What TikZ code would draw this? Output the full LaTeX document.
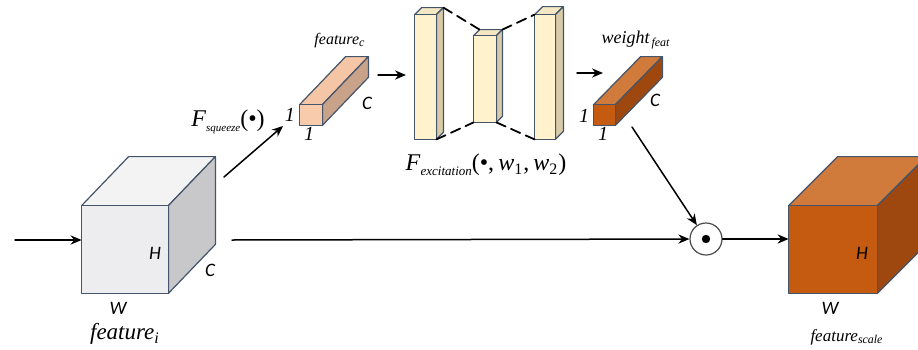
\documentclass[tikz,border=0pt]{standalone}
\usepackage{fontspec}
\setmainfont{Liberation Serif}
\newfontfamily\dimfont{Carlito}
\usepackage{tikz}
\usetikzlibrary{arrows.meta}
\usepackage{xcolor}
\definecolor{edgeblue}{HTML}{44546A}
\definecolor{greyfront}{HTML}{EDEDEF}
\definecolor{greytop}{HTML}{F3F3F3}
\definecolor{greyside}{HTML}{C8C8CA}
\definecolor{peachfront}{HTML}{F8CBAD}
\definecolor{peachtop}{HTML}{F5C6A6}
\definecolor{peachside}{HTML}{C9A28A}
\definecolor{creamfront}{HTML}{FFF2CC}
\definecolor{creamtop}{HTML}{F4E8C4}
\definecolor{creamside}{HTML}{D8CCA8}
\definecolor{rustfront}{HTML}{C55A11}
\definecolor{rusttop}{HTML}{D07A3C}
\definecolor{rustside}{HTML}{9E4810}
% #1 name, #2 x, #3 y, #4 width, #5 height, #6 dx, #7 dy, #8 colour set
\newcommand{\drawbox}[8]{%
  \node[inner sep=0pt,minimum width=#4*0.5pt,minimum height=#5*0.5pt] (#1) at (#2+#4/2,#3+#5/2) {};
  \coordinate (#1-bnw) at ([shift={(#6*0.5pt,#7*0.5pt)}]#1.north west);
  \coordinate (#1-bne) at ([shift={(#6*0.5pt,#7*0.5pt)}]#1.north east);
  \coordinate (#1-bse) at ([shift={(#6*0.5pt,#7*0.5pt)}]#1.south east);
  \filldraw[boxedge,fill=#8top] (#1.north west) -- (#1-bnw) -- (#1-bne) -- (#1.north east) -- cycle;
  \filldraw[boxedge,fill=#8side] (#1.north east) -- (#1-bne) -- (#1-bse) -- (#1.south east) -- cycle;
  \filldraw[boxedge,fill=#8front] (#1.south west) rectangle (#1.north east);
}

\begin{document}
\begin{tikzpicture}[x=0.5pt,y=-0.5pt,>={Stealth[length=5.5pt,width=4.6pt]},line cap=round,
  boxedge/.style={draw=edgeblue,line width=0.6pt,line join=round},
  arrowline/.style={->,line width=0.75pt},
  dimlbl/.style={font=\dimfont\itshape\fontsize{9.5}{10}\selectfont,inner sep=0pt},
  onelbl/.style={font=\itshape\fontsize{10}{10}\selectfont,inner sep=0pt},
  namelbl/.style={font=\itshape\fontsize{#1}{#1}\selectfont,inner sep=0pt},
  funclbl/.style={font=\fontsize{12}{13}\selectfont,inner sep=0pt}]
\clip (0,0) rectangle (918,349);
% input cube
\drawbox{cubeA}{82}{206}{86}{87}{47}{49}{grey}
\node[dimlbl] (hA) at (155,253) {H};
\node[dimlbl] (cA) at (210,270) {C};
\node[dimlbl] (wA) at (118,308) {W};
\node[namelbl=11.5] (nameA) at (125,334) {feature\textsubscript{i}};
% squeezed vector
\drawbox{featc}{300}{105}{22}{20}{46}{48}{peach}
\node[onelbl] (featc-h) at (290,115) {1};
\node[onelbl] (featc-w) at (309,134) {1};
\node[dimlbl] (featc-c) at (367,103) {C};
\node[namelbl=8] (featc-name) at (340,41) {feature\textsubscript{c}};
% excitation layers
\drawbox{barA}{415}{15}{21}{124}{7}{7}{cream}
\drawbox{barB}{474}{36}{22}{86}{6}{6}{cream}
\drawbox{barC}{535}{15}{20}{124}{8}{8}{cream}
\draw[line width=0.9pt,dash pattern=on 5pt off 3pt] (barA-bne) -- (barB-bnw);
\draw[line width=0.9pt,dash pattern=on 5pt off 3pt] (barB-bne) -- (barC.north west);
\draw[line width=0.9pt,dash pattern=on 5pt off 3pt] (barA.south east) -- (barB.south west);
\draw[line width=0.9pt,dash pattern=on 5pt off 3pt] (barB.south east) -- (barC.south west);
% weight vector
\drawbox{wgt}{594}{105}{21}{20}{47}{48}{rust}
\node[onelbl] (wgt-h) at (584,116) {1};
\node[onelbl] (wgt-w) at (603,134) {1};
\node[dimlbl] (wgt-c) at (655,100) {C};
\node[namelbl=9] (wgt-name) at (636,40) {weight\textsubscript{\,feat}};
% output cube
\drawbox{cubeB}{789}{206}{88}{87}{49}{49}{rust}
\node[dimlbl] (hB) at (862,253) {H};
\node[dimlbl] (cB) at (923,270) {C};
\node[dimlbl] (wB) at (830,308) {W};
\node[namelbl=8.5] (nameB) at (847,337) {feature\textsubscript{scale}};
% product
\node[circle,draw=black!70,line width=0.6pt,minimum size=16pt,inner sep=0pt] (odot) at (706,239) {};
\fill (odot.center) circle (2.1pt);
% functions
\node[funclbl] (fsq) at (228,122) {\textit{F}\raisebox{-0.4ex}{\fontsize{5.5}{6}\selectfont\itshape squeeze}(\textbullet)};
\node[funclbl] (fex) at (486,165) {\textit{F}\raisebox{-0.4ex}{\fontsize{6.5}{7}\selectfont\itshape excitation}(\textbullet,\,\textit{w}\textsubscript{1},\,\textit{w}\textsubscript{2})};
% connectors
\coordinate (in) at (15,240);
\coordinate (skip) at (232,240);
\coordinate (sq) at (224,177);
\coordinate (sqend) at (283,126);
\coordinate (cvec) at (378,75);
\coordinate (cvecend) at (406,75);
\coordinate (exout) at (577,73);
\coordinate (exend) at (603,73);
\coordinate (wout) at (632,127);
\draw[arrowline] (in) -- (in -| cubeA.west);
\draw[arrowline] (skip) -- (odot);
\draw[arrowline] (sq) -- (sqend);
\draw[arrowline] (cvec) -- (cvecend);
\draw[arrowline] (exout) -- (exend);
\draw[arrowline] (wout) -- (odot);
\draw[arrowline] (odot) -- (odot -| cubeB.west);
\end{tikzpicture}
\end{document}
